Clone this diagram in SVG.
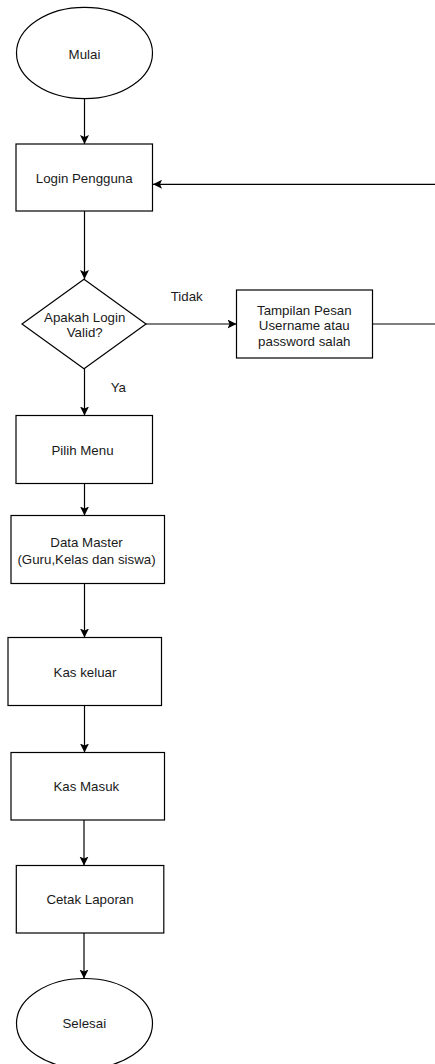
<svg xmlns="http://www.w3.org/2000/svg" width="435" height="1064" viewBox="0 0 435 1064">
<style>
.shape{fill:#fff;stroke:#000;stroke-width:1.2}
.edge{fill:none;stroke:#000;stroke-width:1.2}
text{font-family:"Liberation Sans",Arial,sans-serif;font-size:13.3px;fill:#1a1a1a;text-anchor:middle;dominant-baseline:central}
</style>
<defs>
<marker id="arr" markerUnits="userSpaceOnUse" markerWidth="12" markerHeight="12" refX="9" refY="4.5" orient="auto">
<path d="M0,0 L9,4.5 L0,9 L2,4.5 Z" fill="#000"/>
</marker>
</defs>
<rect width="435" height="1064" fill="#fff"/>
<g id="connectors">
<path class="edge" d="M84.5,99 V144" marker-end="url(#arr)"/>
<path class="edge" d="M84.5,211 V279" marker-end="url(#arr)"/>
<path class="edge" d="M84.5,369 V415.5" marker-end="url(#arr)"/>
<path class="edge" d="M146,324 H236.5" marker-end="url(#arr)"/>
<path class="edge" d="M372.5,324 H445 V184.3 H153" marker-end="url(#arr)"/>
<path class="edge" d="M84.5,483.5 V515.5" marker-end="url(#arr)"/>
<path class="edge" d="M84.5,584 V637.5" marker-end="url(#arr)"/>
<path class="edge" d="M84.5,705.5 V752.5" marker-end="url(#arr)"/>
<path class="edge" d="M84,820 V865.5" marker-end="url(#arr)"/>
<path class="edge" d="M84,933 V978.5" marker-end="url(#arr)"/>
<text x="186.7" y="296.5">Tidak</text>
<text x="118.3" y="387">Ya</text>
</g>
<g id="mulai">
<ellipse class="shape" cx="84.5" cy="53" rx="68" ry="45.7"/>
<text x="84.5" y="54.5">Mulai</text>
</g>
<g id="login">
<rect class="shape" x="16" y="144" width="136.5" height="67"/>
<text x="84.2" y="178.5">Login Pengguna</text>
</g>
<g id="valid">
<polygon class="shape" points="84,279.3 146,324 84,368.7 22,324"/>
<text x="84.7" y="317.3">Apakah Login</text>
<text x="84.7" y="332">Valid?</text>
</g>
<g id="pesan">
<rect class="shape" x="236.5" y="290" width="136" height="68"/>
<text x="304.3" y="310">Tampilan Pesan</text>
<text x="304.3" y="325.7">Username atau</text>
<text x="304.3" y="341.2">password salah</text>
</g>
<g id="menu">
<rect class="shape" x="16" y="415.5" width="136.5" height="68"/>
<text x="82.5" y="450">Pilih Menu</text>
</g>
<g id="master">
<rect class="shape" x="11" y="515.5" width="153.5" height="68"/>
<text x="86.5" y="542.7">Data Master</text>
<text x="86.5" y="559.3">(Guru,Kelas dan siswa)</text>
</g>
<g id="keluar">
<rect class="shape" x="8" y="637.5" width="153.5" height="68"/>
<text x="85" y="672">Kas keluar</text>
</g>
<g id="masuk">
<rect class="shape" x="11" y="752.5" width="153.5" height="67.5"/>
<text x="86.3" y="786.7">Kas Masuk</text>
</g>
<g id="cetak">
<rect class="shape" x="16.3" y="865.5" width="147.5" height="67.5"/>
<text x="90" y="899.3">Cetak Laporan</text>
</g>
<g id="selesai">
<ellipse class="shape" cx="84.5" cy="1023.5" rx="68" ry="45"/>
<text x="84.3" y="1023.5">Selesai</text>
</g>
</svg>
